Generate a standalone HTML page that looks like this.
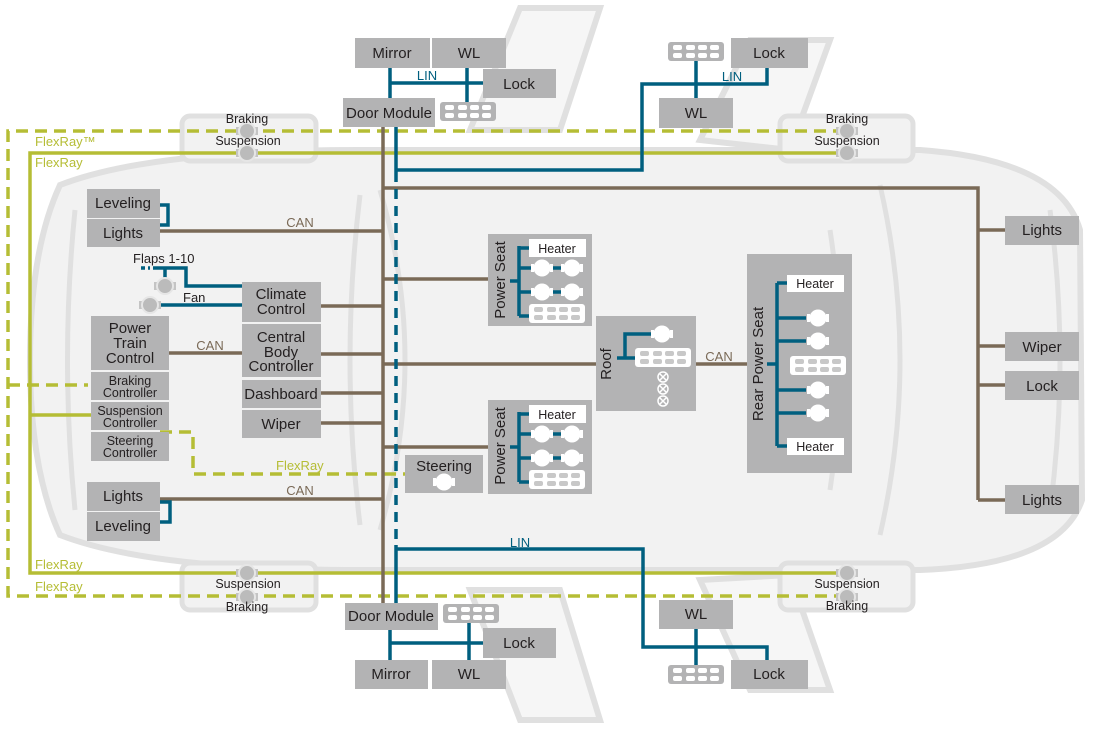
<!DOCTYPE html>
<html><head><meta charset="utf-8"><style>
html,body{margin:0;padding:0;background:#fff;}
svg{display:block;font-family:"Liberation Sans",Arial,sans-serif;}
.b{fill:#b3b3b4;}
.t{fill:#231f20;font-size:15px;text-anchor:middle;}
.s{fill:#231f20;font-size:12.5px;text-anchor:middle;}
.br{stroke:#7a6a57;stroke-width:3.5;fill:none;}
.tl{stroke:#005f7f;stroke-width:3.5;fill:none;}
.gs{stroke:#b5bd35;stroke-width:3.5;fill:none;}
.gd{stroke:#b5bd35;stroke-width:3.5;fill:none;stroke-dasharray:12,7;}
.td{stroke:#005f7f;stroke-width:3.5;fill:none;stroke-dasharray:10,7;}
.car{stroke:#e0e0e0;stroke-width:5;fill:none;}
.gl{fill:#b5bd35;font-size:13px;}
.cl{fill:#7a6a57;font-size:13px;text-anchor:middle;}
.ll{fill:#005f7f;font-size:13px;text-anchor:middle;}
</style></head><body>
<svg width="1094" height="729" viewBox="0 0 1094 729" xmlns="http://www.w3.org/2000/svg">
<defs>
<g id="mot"><rect x="-11" y="-4" width="3" height="8" fill="#fff"/><rect x="8" y="-4" width="3" height="8" fill="#fff"/><rect x="-8" y="-1.5" width="16" height="3" fill="#fff"/><circle r="8.5" fill="#fff"/></g>
<g id="gmot"><rect x="-11" y="-4" width="3" height="8" fill="#c4c4c4"/><rect x="8" y="-4" width="3" height="8" fill="#c4c4c4"/><circle r="8" fill="#bbb" stroke="#e6e6e6" stroke-width="2"/></g>
<g id="con"><rect x="0" y="0" width="56" height="19" rx="3" fill="#fff"/>
<g fill="#c8c8c8"><rect x="5" y="3" width="9" height="5" rx="2"/><rect x="18" y="3" width="9" height="5" rx="2"/><rect x="30" y="3" width="9" height="5" rx="2"/><rect x="42" y="3" width="9" height="5" rx="2"/><rect x="5" y="11" width="9" height="5" rx="2"/><rect x="18" y="11" width="9" height="5" rx="2"/><rect x="30" y="11" width="9" height="5" rx="2"/><rect x="42" y="11" width="9" height="5" rx="2"/></g></g>
<g id="gcon"><rect x="0" y="0" width="56" height="19" rx="3" fill="#b3b3b4"/>
<g fill="#fff"><rect x="5" y="3" width="9" height="5" rx="2"/><rect x="18" y="3" width="9" height="5" rx="2"/><rect x="30" y="3" width="9" height="5" rx="2"/><rect x="42" y="3" width="9" height="5" rx="2"/><rect x="5" y="11" width="9" height="5" rx="2"/><rect x="18" y="11" width="9" height="5" rx="2"/><rect x="30" y="11" width="9" height="5" rx="2"/><rect x="42" y="11" width="9" height="5" rx="2"/></g></g>
</defs>

<!-- car silhouette -->
<path d="M470,130 L520,8 L600,8 L560,130 Z" fill="#f6f6f6" stroke="#e0e0e0" stroke-width="6"/>
<path d="M700,140 L750,40 L830,40 L790,150 Z" fill="#f6f6f6" stroke="#e0e0e0" stroke-width="6"/>
<path d="M470,590 L520,720 L600,720 L560,590 Z" fill="#f6f6f6" stroke="#e0e0e0" stroke-width="6"/>
<path d="M700,580 L750,690 L830,690 L790,575 Z" fill="#f6f6f6" stroke="#e0e0e0" stroke-width="6"/>
<path d="M60,185 Q150,150 360,150 L920,150 Q1060,160 1080,230 L1082,500 Q1060,565 920,570 L360,570 Q150,570 60,535 Q30,470 30,360 Q30,250 60,185 Z" fill="#f2f2f2" stroke="#e0e0e0" stroke-width="6"/>
<path class="car" d="M75,210 Q60,360 75,510"/>
<path class="car" d="M360,195 Q340,360 360,525"/>
<path class="car" d="M380,190 Q430,360 380,530"/>
<path class="car" d="M880,185 Q920,360 880,535"/>
<path class="car" d="M830,230 Q850,360 830,490"/>
<path class="car" d="M1050,210 Q1070,360 1050,510"/>
<rect x="182" y="116" width="134" height="45" rx="8" fill="#f2f2f2" stroke="#e0e0e0" stroke-width="5"/>
<rect x="780" y="116" width="133" height="45" rx="8" fill="#f2f2f2" stroke="#e0e0e0" stroke-width="5"/>
<rect x="182" y="563" width="134" height="47" rx="8" fill="#f2f2f2" stroke="#e0e0e0" stroke-width="5"/>
<rect x="780" y="563" width="133" height="47" rx="8" fill="#f2f2f2" stroke="#e0e0e0" stroke-width="5"/>

<!-- FlexRay -->
<path class="gd" d="M845,131 L8,131 L8,596 L845,596"/>
<path class="gd" d="M8,385 L88,385"/>
<path class="gs" d="M845,153 L30,153 L30,573 L845,573"/>
<path class="gs" d="M30,415 L92,415"/>
<path class="gd" d="M160,432 L193,432 L193,474 L415,474"/>
<text class="gl" x="35" y="146">FlexRay™</text>
<text class="gl" x="35" y="167">FlexRay</text>
<text class="gl" x="35" y="569">FlexRay</text>
<text class="gl" x="35" y="591">FlexRay</text>
<text class="gl" x="276" y="470">FlexRay</text>

<!-- brown CAN -->
<path class="br" d="M383,125 L383,605"/>
<path class="br" d="M383,188 L978,188 L978,500"/>
<path class="br" d="M978,230 L1005,230 M978,346 L1005,346 M978,385 L1005,385 M978,500 L1005,500"/>
<path class="br" d="M160,231 L383,231 M160,499 L383,499 M169,353 L242,353"/>
<path class="br" d="M321,306 L383,306 M321,354 L383,354 M321,393 L383,393 M321,423 L383,423"/>
<path class="br" d="M383,279 L490,279 M383,364 L596,364 M383,447 L490,447 M696,364 L747,364"/>
<text class="cl" x="300" y="227">CAN</text>
<text class="cl" x="300" y="495">CAN</text>
<text class="cl" x="210" y="350">CAN</text>
<text class="cl" x="719" y="361">CAN</text>

<!-- teal LIN -->
<path class="tl" d="M396,125 L396,172"/>
<path class="td" d="M396,172 L396,545"/>
<path class="tl" d="M396,545 L396,603"/>
<path class="tl" d="M396,170 L642,170 L642,84 L767,84 L767,68 M696,61 L696,98"/>
<path class="tl" d="M390,68 L390,98 M467,68 L467,102 M390,83 L483,83"/>
<path class="tl" d="M396,549 L643,549 L643,647 L767,647 L767,660 M696,629 L696,665"/>
<path class="tl" d="M390,630 L390,660 M469,623 L469,660 M390,643 L483,643"/>
<text class="ll" x="427" y="80">LIN</text>
<text class="ll" x="732" y="81">LIN</text>
<text class="ll" x="520" y="547">LIN</text>
<path class="tl" d="M160,205 L168,205 L168,225 L160,225"/>
<path class="tl" d="M160,502 L170,502 L170,522 L160,522"/>
<path class="tl" d="M153,268 L186,268 L186,286 L242,286 M165,268 L165,280 M160,305 L242,305"/>
<path class="tl" d="M141,268 L150,268" stroke-dasharray="4,3"/>

<!-- boxes top -->
<rect class="b" x="355" y="38" width="75" height="30"/><text class="t" x="392" y="58">Mirror</text>
<rect class="b" x="432" y="38" width="74" height="30"/><text class="t" x="469" y="58">WL</text>
<rect class="b" x="483" y="69" width="73" height="29"/><text class="t" x="519" y="89">Lock</text>
<rect class="b" x="343" y="98" width="92" height="29"/><text class="t" x="389" y="118">Door Module</text>
<use href="#gcon" x="440" y="102"/>
<use href="#gcon" x="668" y="42"/>
<rect class="b" x="731" y="38" width="77" height="30"/><text class="t" x="769" y="58">Lock</text>
<rect class="b" x="659" y="98" width="74" height="30"/><text class="t" x="696" y="118">WL</text>
<!-- bottom -->
<rect class="b" x="345" y="603" width="93" height="27"/><text class="t" x="391" y="621">Door Module</text>
<use href="#gcon" x="443" y="604"/>
<rect class="b" x="483" y="628" width="73" height="30"/><text class="t" x="519" y="648">Lock</text>
<rect class="b" x="355" y="660" width="73" height="29"/><text class="t" x="391" y="679">Mirror</text>
<rect class="b" x="432" y="660" width="74" height="29"/><text class="t" x="469" y="679">WL</text>
<rect class="b" x="659" y="600" width="74" height="29"/><text class="t" x="696" y="619">WL</text>
<use href="#gcon" x="668" y="665"/>
<rect class="b" x="731" y="660" width="77" height="29"/><text class="t" x="769" y="679">Lock</text>

<!-- suspension/braking icons -->
<use href="#gmot" x="247" y="131"/><use href="#gmot" x="247" y="153"/>
<use href="#gmot" x="847" y="131"/><use href="#gmot" x="847" y="153"/>
<use href="#gmot" x="247" y="573"/><use href="#gmot" x="247" y="597"/>
<use href="#gmot" x="847" y="573"/><use href="#gmot" x="847" y="597"/>
<text class="s" x="247" y="123">Braking</text><text class="s" x="248" y="145">Suspension</text>
<text class="s" x="847" y="123">Braking</text><text class="s" x="847" y="145">Suspension</text>
<text class="s" x="248" y="588">Suspension</text><text class="s" x="247" y="611">Braking</text>
<text class="s" x="847" y="588">Suspension</text><text class="s" x="847" y="610">Braking</text>

<!-- left boxes -->
<rect class="b" x="87" y="189" width="73" height="29"/><text class="t" x="123" y="208">Leveling</text>
<rect class="b" x="87" y="219" width="73" height="28"/><text class="t" x="123" y="238">Lights</text>
<rect class="b" x="87" y="482" width="73" height="29"/><text class="t" x="123" y="501">Lights</text>
<rect class="b" x="87" y="512" width="73" height="29"/><text class="t" x="123" y="531">Leveling</text>
<text x="133" y="263" font-size="13" fill="#231f20">Flaps 1-10</text>
<text x="183" y="302" font-size="13" fill="#231f20">Fan</text>
<use href="#gmot" x="165" y="286"/><use href="#gmot" x="150" y="305"/>
<rect class="b" x="242" y="282" width="79" height="40"/><text class="t" x="281" y="299">Climate</text><text class="t" x="281" y="314">Control</text>
<rect class="b" x="242" y="324" width="79" height="53"/><text class="t" x="281" y="342">Central</text><text class="t" x="281" y="357">Body</text><text class="t" x="281" y="371">Controller</text>
<rect class="b" x="242" y="380" width="79" height="28"/><text class="t" x="281" y="399">Dashboard</text>
<rect class="b" x="242" y="410" width="79" height="28"/><text class="t" x="281" y="429">Wiper</text>
<rect class="b" x="91" y="316" width="78" height="54"/><text class="t" x="130" y="333">Power</text><text class="t" x="130" y="348">Train</text><text class="t" x="130" y="363">Control</text>
<rect class="b" x="91" y="372" width="78" height="28"/><text class="s" x="130" y="385" font-size="11.5">Braking</text><text class="s" x="130" y="397" font-size="11.5">Controller</text>
<rect class="b" x="91" y="402" width="78" height="28"/><text class="s" x="130" y="415" font-size="11.5">Suspension</text><text class="s" x="130" y="427" font-size="11.5">Controller</text>
<rect class="b" x="91" y="432" width="78" height="29"/><text class="s" x="130" y="445" font-size="11.5">Steering</text><text class="s" x="130" y="457" font-size="11.5">Controller</text>
<rect class="b" x="405" y="455" width="78" height="38"/><text class="t" x="444" y="471">Steering</text><use href="#mot" x="444" y="482"/>

<!-- right boxes -->
<rect class="b" x="1005" y="216" width="74" height="29"/><text class="t" x="1042" y="235">Lights</text>
<rect class="b" x="1005" y="332" width="74" height="29"/><text class="t" x="1042" y="352">Wiper</text>
<rect class="b" x="1005" y="371" width="74" height="29"/><text class="t" x="1042" y="391">Lock</text>
<rect class="b" x="1005" y="485" width="74" height="29"/><text class="t" x="1042" y="505">Lights</text>

<!-- power seats -->
<g>
<rect class="b" x="488" y="234" width="104" height="92"/>
<text class="t" transform="translate(505,280) rotate(-90)">Power Seat</text>
<path class="tl" d="M510,281 L519,281 M519,246 L519,316 M519,248 L529,248 M519,268 L531,268 M519,292 L531,292 M519,316 L531,316 M551,268 L561,268 M551,292 L561,292"/>
<rect x="529" y="239" width="57" height="18" fill="#fff"/><text class="s" x="557" y="253" font-size="13">Heater</text>
<use href="#mot" x="542" y="268"/><use href="#mot" x="572" y="268"/>
<use href="#mot" x="542" y="292"/><use href="#mot" x="572" y="292"/>
<use href="#con" x="529" y="304"/>
</g>
<g transform="translate(0,166)">
<rect class="b" x="488" y="234" width="104" height="94"/>
<text class="t" transform="translate(505,280) rotate(-90)">Power Seat</text>
<path class="tl" d="M510,281 L519,281 M519,246 L519,316 M519,248 L529,248 M519,268 L531,268 M519,292 L531,292 M519,316 L531,316 M551,268 L561,268 M551,292 L561,292"/>
<rect x="529" y="239" width="57" height="18" fill="#fff"/><text class="s" x="557" y="253" font-size="13">Heater</text>
<use href="#mot" x="542" y="268"/><use href="#mot" x="572" y="268"/>
<use href="#mot" x="542" y="292"/><use href="#mot" x="572" y="292"/>
<use href="#con" x="529" y="304"/>
</g>
<!-- roof -->
<rect class="b" x="596" y="316" width="100" height="95"/>
<text class="t" transform="translate(611,364) rotate(-90)">Roof</text>
<path class="tl" d="M617,358 L636,358 M625,358 L625,334 L652,334"/>
<use href="#mot" x="662" y="334"/>
<use href="#con" x="635" y="348"/>
<g stroke="#fff" stroke-width="1.5" fill="none">
<circle cx="663" cy="377" r="5"/><circle cx="663" cy="389" r="5"/><circle cx="663" cy="401" r="5"/>
<path d="M660,374 L666,380 M666,374 L660,380 M660,386 L666,392 M666,386 L660,392 M660,398 L666,404 M666,398 L660,404"/>
</g>
<!-- rear power seat -->
<rect class="b" x="747" y="254" width="105" height="219"/>
<text class="t" transform="translate(763,364) rotate(-90)">Rear Power Seat</text>
<path class="tl" d="M767,364 L777,364 M777,283 L777,446 M777,283 L787,283 M777,446 L787,446 M777,318 L806,318 M777,341 L806,341 M777,390 L806,390 M777,413 L806,413"/>
<rect x="787" y="275" width="57" height="17" fill="#fff"/><text class="s" x="815" y="288" font-size="13">Heater</text>
<rect x="787" y="438" width="57" height="17" fill="#fff"/><text class="s" x="815" y="451" font-size="13">Heater</text>
<use href="#mot" x="818" y="318"/><use href="#mot" x="818" y="341"/>
<use href="#mot" x="818" y="390"/><use href="#mot" x="818" y="413"/>
<use href="#con" x="790" y="356"/>
</svg>
</body></html>
